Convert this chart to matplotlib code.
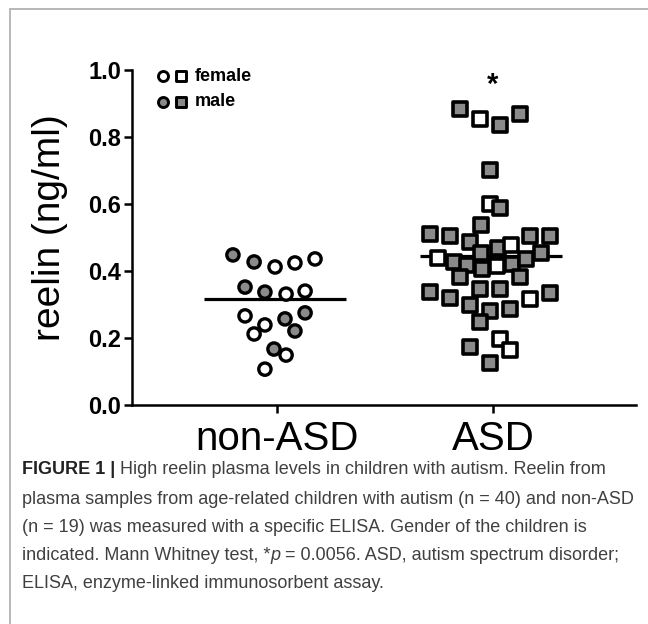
import matplotlib.pyplot as plt
from matplotlib.lines import Line2D

plt.rcParams.update({'font.family': 'Liberation Sans'})

groups = ['non-ASD', 'ASD']
group_pos = [1, 2]

# non-ASD children (circles); dx = horizontal scatter offset
ctrl_val = [0.448, 0.427, 0.412, 0.424, 0.436, 0.352, 0.337, 0.331, 0.340,
            0.266, 0.239, 0.212, 0.257, 0.275, 0.221, 0.167, 0.149, 0.107]
ctrl_dx = [-0.204, -0.106, -0.009, 0.083, 0.176, -0.148, -0.056, 0.042, 0.130,
           -0.148, -0.056, -0.106, 0.037, 0.130, 0.083, -0.014, 0.042, -0.056]
ctrl_male = [1, 1, 0, 0, 0, 1, 1, 0, 0, 0, 0, 0, 1, 1, 1, 1, 0, 0]
ctrl_mean = 0.316

# ASD children (squares)
asd_val = [0.884, 0.854, 0.836, 0.869, 0.701, 0.600, 0.588, 0.537,
           0.510, 0.504, 0.487, 0.454, 0.469, 0.478, 0.504, 0.504, 0.454,
           0.439, 0.427, 0.418, 0.406, 0.415, 0.421, 0.436, 0.382, 0.382,
           0.337, 0.319, 0.346, 0.346, 0.299, 0.281, 0.287, 0.316, 0.334,
           0.248, 0.197, 0.164, 0.173, 0.125]
asd_dx = [-0.153, -0.060, 0.032, 0.125, -0.014, -0.014, 0.032, -0.056,
          -0.292, -0.199, -0.106, -0.056, 0.023, 0.083, 0.171, 0.264, 0.222,
          -0.255, -0.181, -0.120, -0.051, 0.019, 0.088, 0.153, -0.153, 0.125,
          -0.292, -0.199, -0.060, 0.032, -0.106, -0.014, 0.079, 0.171, 0.264,
          -0.060, 0.032, 0.079, -0.106, -0.014]
asd_male = [1, 0, 1, 1, 1, 0, 1, 1,
            1, 1, 1, 1, 1, 0, 1, 1, 1,
            0, 1, 1, 1, 0, 1, 1, 1, 1,
            1, 1, 1, 1, 1, 1, 1, 0, 1,
            1, 0, 0, 1, 1]
asd_mean = 0.445

yticks = [0.0, 0.2, 0.4, 0.6, 0.8, 1.0]

GREY = '#8a8a8a'
W, H = 648, 624
fig = plt.figure(figsize=(W / 100, H / 100), dpi=100)
ax = fig.add_axes([132 / W, 1 - 405 / H, 504 / W, 335 / H])

# group means (behind the markers)
for pos, m in zip(group_pos, [ctrl_mean, asd_mean]):
    ax.hlines(m, pos - 0.34, pos + 0.32, color='black', lw=2.3, zorder=2)

ax.scatter([group_pos[0] + d for d in ctrl_dx], ctrl_val, marker='o', s=78,
           c=[GREY if m else 'white' for m in ctrl_male], edgecolors='black',
           linewidths=2.4, zorder=3)
ax.scatter([group_pos[1] + d for d in asd_dx], asd_val, marker='s', s=105,
           c=[GREY if m else 'white' for m in asd_male], edgecolors='black',
           linewidths=2.6, zorder=3)

ax.text(group_pos[1], 0.955, '*', ha='center', va='center', fontsize=21,
        fontweight='bold')

# legend drawn by hand, as in the original
leg_x = [1 + (163 - 277) / 216, 1 + (181 - 277) / 216]
for yy, face, lab in [(0.982, 'white', 'female'), (0.905, GREY, 'male')]:
    ax.scatter([leg_x[0]], [yy], marker='o', s=52, c=face, edgecolors='black',
               linewidths=2.1, zorder=3, clip_on=False)
    ax.scatter([leg_x[1]], [yy], marker='s', s=62, c=face, edgecolors='black',
               linewidths=2.1, zorder=3, clip_on=False)
    ax.text(1 + (195 - 277) / 216, yy, lab, ha='left', va='center',
            fontsize=13, fontweight='bold')

ax.set_xlim(1 - 145 / 216, 2 + 143 / 216)
ax.set_ylim(0, 1.0)
ax.set_yticks(yticks)
ax.set_yticklabels([f'{v:.1f}' for v in yticks], fontsize=17, fontweight='bold')
ax.set_xticks(group_pos)
ax.set_xticklabels(groups, fontsize=29)
ax.tick_params(axis='both', length=6, width=1.8, direction='out')
ax.tick_params(axis='y', pad=2)
ax.tick_params(axis='x', pad=5)
for s in ('top', 'right'):
    ax.spines[s].set_visible(False)
for s in ('left', 'bottom'):
    ax.spines[s].set_linewidth(1.8)

fig.text(50 / W, 1 - 228 / H, 'reelin (ng/ml)', rotation=90, ha='center',
         va='center', fontsize=28)

# page frame (top and left rule)
fig.add_artist(Line2D([10 / W, 1], [1 - 9 / H, 1 - 9 / H], color='#b8b8b8', lw=1.4))
fig.add_artist(Line2D([10 / W, 10 / W], [0, 1 - 9 / H], color='#b8b8b8', lw=1.4))

# caption
cap_col = '#404040'
fs = 13.0
x0 = 22 / W
t = fig.text(x0, 1 - 470 / H, 'FIGURE 1 | ', fontsize=fs, fontweight='bold',
             color='#222222', va='center')
ax.annotate('High reelin plasma levels in children with autism. Reelin from',
            xy=(1, 0.5), xycoords=t, va='center', ha='left', fontsize=fs,
            color=cap_col, annotation_clip=False)
fig.text(x0, 1 - 499 / H,
         'plasma samples from age-related children with autism (n = 40) and non-ASD',
         fontsize=fs, color=cap_col, va='center')
fig.text(x0, 1 - 527 / H,
         '(n = 19) was measured with a specific ELISA. Gender of the children is',
         fontsize=fs, color=cap_col, va='center')
t4 = fig.text(x0, 1 - 556 / H, 'indicated. Mann Whitney test, *', fontsize=fs,
              color=cap_col, va='center')
t5 = ax.annotate('p', xy=(1, 0.5), xycoords=t4, va='center', ha='left',
                 fontsize=fs, color=cap_col, style='italic', annotation_clip=False)
ax.annotate(' = 0.0056. ASD, autism spectrum disorder;', xy=(1, 0.5), xycoords=t5,
            va='center', ha='left', fontsize=fs, color=cap_col,
            annotation_clip=False)
fig.text(x0, 1 - 584 / H, 'ELISA, enzyme-linked immunosorbent assay.',
         fontsize=fs, color=cap_col, va='center')

fig.savefig('out.png', dpi=100)
